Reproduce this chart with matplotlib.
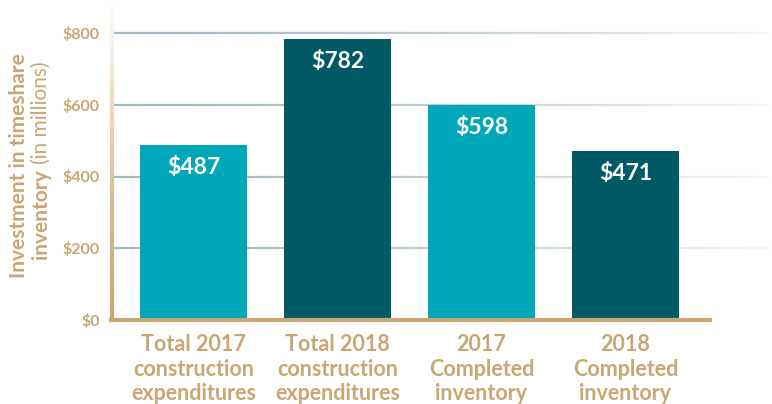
import numpy as np
import matplotlib
matplotlib.use("Agg")
import matplotlib.pyplot as plt
from matplotlib.collections import LineCollection
from matplotlib.colors import to_rgb

plt.rcParams["font.family"] = ["Lato", "DejaVu Sans"]

# -------------------------------------
# Data
# -------------------------------------

categories = [
    "Total 2017\nconstruction\nexpenditures",
    "Total 2018\nconstruction\nexpenditures",
    "2017\nCompleted\ninventory",
    "2018\nCompleted\ninventory",
]
values = [487, 782, 598, 471]
value_labels = ["$487", "$782", "$598", "$471"]
y_ticks = [0, 200, 400, 600, 800]
y_tick_labels = ["$0", "$200", "$400", "$600", "$800"]

LIGHT = "#00a7b8"
DARK = "#005a65"
TAN = "#c9a673"
GRID = "#a3b9c2"
bar_colors = [LIGHT, DARK, LIGHT, DARK]

# -------------------------------------
# Figure
# -------------------------------------

W, H = 772, 404
fig = plt.figure(figsize=(W / 100, H / 100), dpi=100)

ax_left, ax_right = 112, 770
ax_bottom = 320
ax = fig.add_axes([ax_left / W, (H - ax_bottom) / H,
                   (ax_right - ax_left) / W, ax_bottom / H])

x = np.arange(len(categories))
px_per_unit = 144.0
xmin = -(193.5 - ax_left) / px_per_unit
xmax = xmin + (ax_right - ax_left) / px_per_unit
ax.set_xlim(xmin, xmax)

px_per_val = 287 / 800
ax.set_ylim(0, ax_bottom / px_per_val)

# fading gridlines
n = 200
xs = np.linspace(xmin, xmax, n + 1)
grid_rgb = to_rgb(GRID)
for t in y_ticks[1:]:
    segs = [[(xs[i], t), (xs[i + 1], t)] for i in range(n)]
    alphas = np.clip(1.0 - np.linspace(0, 1, n) ** 1.5 * 0.9, 0, 1)
    cols = [(*grid_rgb, a) for a in alphas]
    ax.add_collection(LineCollection(segs, colors=cols, linewidths=1.6, zorder=1))

bars = ax.bar(x, values, width=0.745, color=bar_colors, zorder=2)

for bar, lab in zip(bars, value_labels):
    ax.annotate(
        lab,
        (bar.get_x() + bar.get_width() / 2, bar.get_height()),
        xytext=(0, -22),
        textcoords="offset pixels",
        ha="center",
        va="center",
        color="white",
        fontsize=16.5,
        fontweight="bold",
        zorder=3,
    )

for s in ["top", "right", "left"]:
    ax.spines[s].set_visible(False)
ax.spines["bottom"].set_color(TAN)
ax.spines["bottom"].set_linewidth(3)
ax.spines["bottom"].set_bounds(xmin - 0.01, (710 - 193.5) / px_per_unit)
ax.spines["bottom"].set_zorder(4)

# gradient left axis line
m = 100
ys = np.linspace(0, 1, m + 1)
tan_rgb = np.array(to_rgb(TAN))
segs = [[(0, ys[i]), (0, ys[i + 1])] for i in range(m)]
cols = [tuple(tan_rgb + (1 - tan_rgb) * (ys[i] ** 1.3)) for i in range(m)]
ax.add_collection(LineCollection(segs, colors=cols, linewidths=3,
                                 transform=ax.transAxes, clip_on=False, zorder=4))

ax.set_yticks(y_ticks)
ax.set_yticklabels(y_tick_labels)
ax.set_xticks(x)
ax.set_xticklabels(categories, linespacing=1.22)
ax.tick_params(axis="y", length=0, pad=9, labelsize=11.5, labelcolor=TAN)
ax.tick_params(axis="x", length=0, pad=10, labelsize=15.5, labelcolor=TAN)
for lab in ax.get_yticklabels():
    lab.set_fontweight("bold")
for lab in ax.get_xticklabels():
    lab.set_fontweight("bold")

# y label, two lines with mixed weights
fig.text(19 / W, 1 - 166 / H, "Investment in timeshare", rotation=90,
         ha="center", va="center", color=TAN, fontsize=15, fontweight="bold")
inv = fig.text(40.5 / W, 1 - 259 / H, "inventory", rotation=90,
               ha="center", va="bottom", color=TAN, fontsize=15, fontweight="bold")
fig.canvas.draw()
bb = inv.get_window_extent()
fig.text(40.5 / W, (bb.y1 + 5) / H, "(in millions)", rotation=90,
         ha="center", va="bottom", color=TAN, fontsize=15, fontweight="normal")

fig.savefig("out.png", dpi=100)
